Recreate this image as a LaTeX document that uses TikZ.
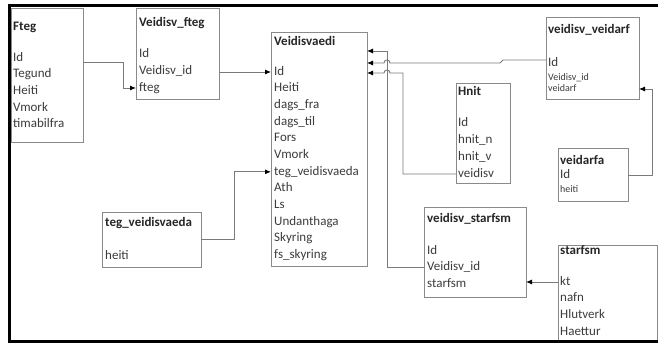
\documentclass[tikz,border=0pt]{standalone}
\usepackage{fontspec}
\setmainfont{Carlito}
\usetikzlibrary{arrows.meta,calc}
\definecolor{boxgray}{HTML}{8A8A8A}
\definecolor{linegray}{HTML}{7A7A7A}
\definecolor{txtgray}{HTML}{3C3C3C}
\tikzset{
 tbl/.style={draw=boxgray, line width=0.9pt, anchor=north west, inner sep=0pt, outer sep=0pt},
 ttl/.style={anchor=west, inner sep=0pt, font=\fontsize{13}{15}\selectfont\bfseries, text=black!85, text height=9.5pt, text depth=3pt},
 fld/.style={anchor=west, inner sep=0pt, font=\fontsize{13}{15}\selectfont, text=txtgray, text height=9.5pt, text depth=3pt},
 sfld/.style={anchor=west, inner sep=0pt, font=\fontsize{10}{12}\selectfont, text=txtgray, text height=7pt, text depth=2pt},
 conn/.style={draw=linegray, line width=0.9pt, -{Latex[length=6pt,width=5pt,black]}},
}
\begin{document}
\begin{tikzpicture}[x=1pt,y=-1pt]
\useasboundingbox (0,0) rectangle (658,344);
\fill[white] (0,0) rectangle (658,344);
% frame
\draw[line width=3.5pt] (660,5.5) -- (9.5,5.5) -- (9.5,341.5) -- (660,341.5);

% Fteg
\node[tbl, minimum width=72pt, minimum height=134pt] (fteg) at (11,8) {};
\node[ttl] (fteg0) at (13,27) {Fteg};
\foreach \t [count=\i] in {Id,Tegund,Heiti,Vmork,timabilfra}
  \node[fld] (fteg\i) at (13,{58+16.6*(\i-1)}) {\t};

% Veidisv_fteg
\node[tbl, minimum width=83pt, minimum height=91pt] (vfteg) at (136,8) {};
\node[ttl] (vfteg0) at (139,23) {Veidisv\_fteg};
\foreach \t [count=\i] in {Id,Veidisv\_id,fteg}
  \node[fld] (vfteg\i) at (139,{54+17*(\i-1)}) {\t};

% Veidisvaedi
\node[tbl, minimum width=96pt, minimum height=234pt] (veid) at (271,32) {};
\node[ttl] (veid0) at (274,42) {Veidisvaedi};
\foreach \t [count=\i] in {Id,Heiti,dags\_fra,dags\_til,Fors,Vmork,teg\_veidisvaeda,Ath,Ls,Undanthaga,Skyring,fs\_skyring}
  \node[fld] (veid\i) at (274,{72+16.64*(\i-1)}) {\t};

% teg_veidisvaeda
\node[tbl, minimum width=99pt, minimum height=55pt] (teg) at (102,212) {};
\node[ttl] (teg0) at (105,223) {teg\_veidisvaeda};
\node[fld] (teg1) at (105,256) {heiti};

% Hnit
\node[tbl, minimum width=54pt, minimum height=100pt] (hnit) at (456,83) {};
\node[ttl] (hnit0) at (458,92) {Hnit};
\foreach \t [count=\i] in {Id,hnit\_n,hnit\_v,veidisv}
  \node[fld] (hnit\i) at (458,{123+17*(\i-1)}) {\t};

% veidisv_veidarf
\node[tbl, minimum width=93pt, minimum height=82pt] (vveid) at (546,17) {};
\node[ttl] (vveid0) at (548,30) {veidisv\_veidarf};
\node[fld] (vveid1) at (548,63) {Id};
\node[sfld] (vveid2) at (548,78) {Veidisv\_id};
\node[sfld] (vveid3) at (548,89) {veidarf};

% veidarfa
\node[tbl, minimum width=70pt, minimum height=53pt] (vf) at (558,148) {};
\node[ttl] (vf0) at (560,161) {veidarfa};
\node[fld] (vf1) at (560,175) {Id};
\node[sfld] (vf2) at (560,190) {heiti};

% veidisv_starfsm
\node[tbl, minimum width=102pt, minimum height=90pt] (vstarf) at (424,207) {};
\node[ttl] (vstarf0) at (427,219) {veidisv\_starfsm};
\foreach \t [count=\i] in {Id,Veidisv\_id,starfsm}
  \node[fld] (vstarf\i) at (427,{251+16.6*(\i-1)}) {\t};

% starfsm
\node[tbl, minimum width=99pt, minimum height=95pt] (starfsm) at (558,245) {};
\node[ttl] (starfsm0) at (560,251) {starfsm};
\foreach \t [count=\i] in {kt,nafn,Hlutverk,Haettur}
  \node[fld] (starfsm\i) at (560,{282+16.6*(\i-1)}) {\t};

% frame over starfsm bottom
\draw[line width=3.5pt] (540,341.5) -- (660,341.5);

% connectors
\draw[conn] ($(fteg.east|-fteg1)+(0,4)$) -- ++(40,0) |- (vfteg.west|-vfteg3);
\draw[conn] (vfteg.east|-veid1) -- (veid.west|-veid1);
\draw[conn] (teg.east) -- ++(33,0) |- (veid.west|-veid7);
\draw[conn] (vstarf.west|-vstarf2) -- ++(-37,0) |- ($(veid.north east)+(0,19)$);
\draw[conn] ($(vveid.west|-vveid1)+(0,-3)$) -- (503,60) -- (500,63) -- (390,63)
  .. controls (390,59) and (384,59) .. (384,63) -- (veid.east|-0,63);
\draw[conn] (hnit.west|-hnit4) -- (403,174) -- (403,73) -- (390,73)
  .. controls (390,69) and (384,69) .. (384,73) -- (veid.east|-0,73);
\draw[conn] (vf.east|-vf1) -- ++(24,0) |- (vveid.east|-vveid3);
\draw[conn] (starfsm.west|-starfsm1) -- (vstarf.east|-starfsm1);
\end{tikzpicture}
\end{document}
